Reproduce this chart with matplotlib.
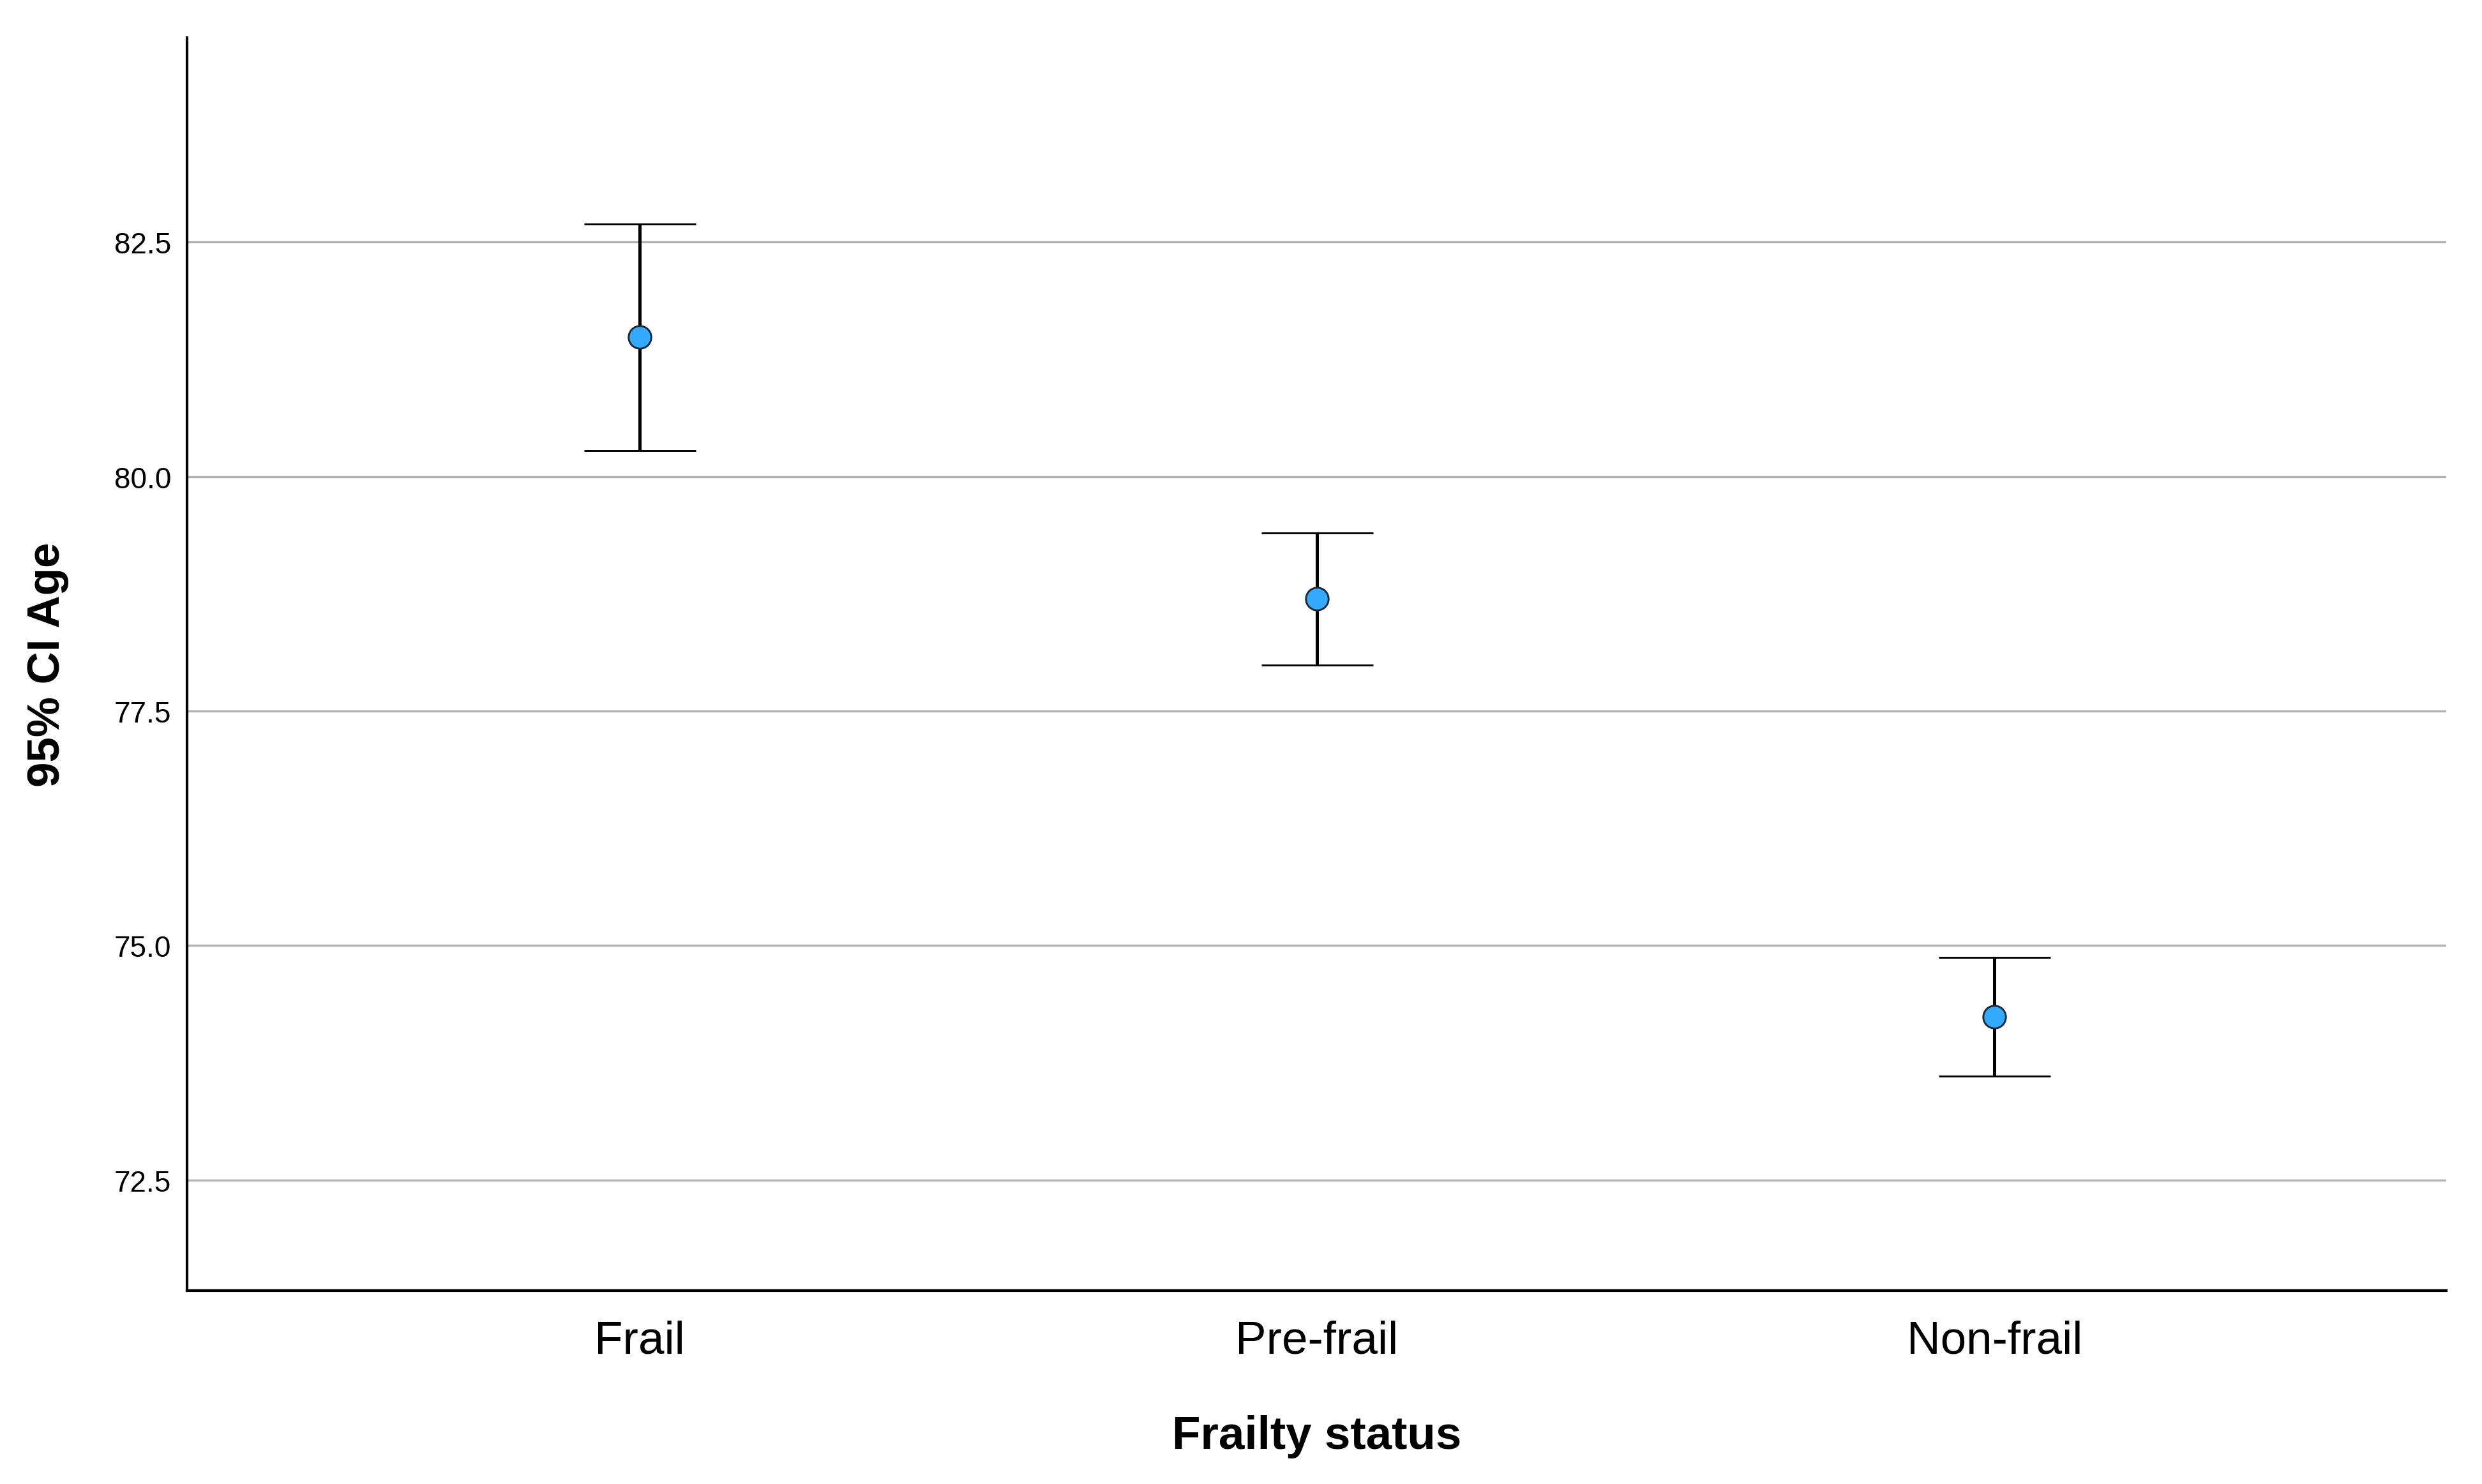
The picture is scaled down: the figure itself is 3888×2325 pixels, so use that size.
import matplotlib.pyplot as plt
import numpy as np

plt.rcParams['font.family'] = ['Liberation Sans', 'DejaVu Sans']

# mean age and 95% CI bounds per frailty group
groups = ['Frail', 'Pre-frail', 'Non-frail']
mean_age = [81.49, 78.70, 74.24]
ci_low = [80.28, 77.99, 73.61]
ci_high = [82.69, 79.40, 74.87]
y_ticks = [72.5, 75.0, 77.5, 80.0, 82.5]

x = np.arange(len(groups))
mean_arr = np.array(mean_age)
yerr = [mean_arr - np.array(ci_low), np.array(ci_high) - mean_arr]

fig = plt.figure(figsize=(12.96, 7.7533), dpi=300)
ax = fig.add_axes([0.07536, 0.13027, 0.91024, 0.84393])

ax.errorbar(x, mean_age, yerr=yerr, fmt='o', color='black', ecolor='black',
            elinewidth=1.2, capsize=21, capthick=1.2,
            markerfacecolor='#33aaff', markeredgecolor='#1a2a3a',
            markeredgewidth=0.7, markersize=8.5, zorder=3)

ax.set_xlim(-0.668, 2.667)
ax.set_ylim(71.32, 84.68)
ax.set_yticks(y_ticks)
ax.set_yticklabels(['{:.1f}'.format(v) for v in y_ticks], fontsize=11)
ax.set_xticks(x)
ax.set_xticklabels(groups, fontsize=17.5)
ax.tick_params(axis='both', length=0)
ax.tick_params(axis='x', pad=11)
ax.tick_params(axis='y', pad=6)

ax.yaxis.grid(True, color='#b0b0b0', linewidth=0.8, zorder=0)
ax.set_axisbelow(True)

for side in ['top', 'right']:
    ax.spines[side].set_visible(False)
for side in ['left', 'bottom']:
    ax.spines[side].set_linewidth(1.0)
    ax.spines[side].set_color('black')

fig.text(75 / 3888, 0.5522, '95% CI Age', rotation=90, ha='center', va='center',
         fontsize=17, fontweight='bold')
fig.text(0.5305, 1 - 2270 / 2326, 'Frailty status', ha='center', va='baseline',
         fontsize=17.5, fontweight='bold')

fig.savefig('out.png', dpi=300)
